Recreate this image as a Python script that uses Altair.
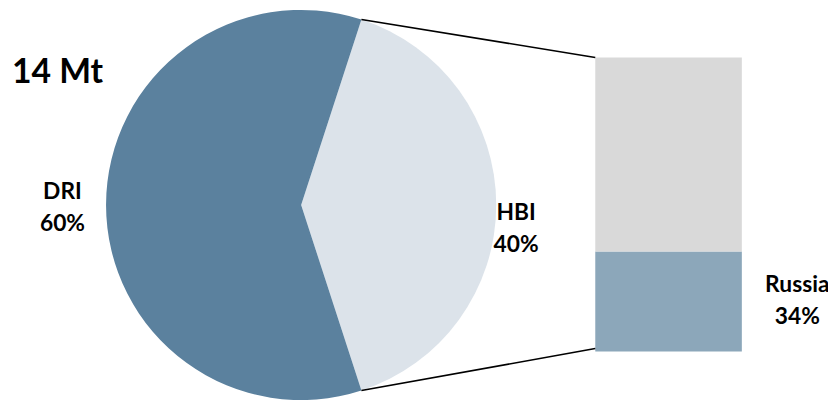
import math
import altair as alt
import pandas as pd

# ---- data ----
pie_cats = ["HBI", "DRI"]
pie_shares = [40, 60]
bar_cats = ["Russia", "Other"]
bar_shares = [34, 66]
total_label = "14 Mt"
labelled_bar = ["Russia"]

color_domain = ["DRI", "HBI", "Other", "Russia"]
color_range = ["#5B819E", "#DCE3EA", "#D9D9D9", "#8CA7BA"]

# ---- layout ----
W, H = 828, 392
cx, cy, R = 296, 197, 197
bx0, bx1, by_top, by_bot = 593, 741, 48, 345
FONT = "Lato"

hbi_frac = pie_shares[0] / sum(pie_shares)
a0 = math.pi / 2 - hbi_frac * math.pi          # start angle (from 12 o'clock, clockwise)
a1 = a0 + 2 * math.pi * hbi_frac

pie_df = pd.DataFrame({"cat": pie_cats, "share": pie_shares, "ord": range(len(pie_cats))})

bar_df = pd.DataFrame({"cat": bar_cats, "share": bar_shares})
bar_df["y0"] = bar_df["share"].cumsum() - bar_df["share"]
bar_df["y1"] = bar_df["share"].cumsum()

pie = alt.Chart(pie_df).mark_arc(outerRadius=R).encode(
    theta=alt.Theta("share:Q", stack=True,
                    scale=alt.Scale(range=[a0, a0 + 2 * math.pi])),
    order=alt.Order("ord:Q"),
    color=alt.Color("cat:N", scale=alt.Scale(domain=color_domain, range=color_range), legend=None),
    x=alt.value(cx),
    y=alt.value(cy),
)

bar = alt.Chart(bar_df).mark_rect().encode(
    y=alt.Y("y0:Q", scale=alt.Scale(domain=[0, 100], range=[by_bot, by_top], nice=False, zero=False), axis=None),
    y2="y1:Q",
    x=alt.value(bx0),
    x2=alt.value(bx1),
    color=alt.Color("cat:N", scale=alt.Scale(domain=color_domain, range=color_range), legend=None),
)

# connector lines from HBI slice edges to bar corners
bar_scale = lambda v: by_bot + (by_top - by_bot) * v / 100.0
conn_df = pd.DataFrame({
    "x": [cx + R * math.sin(a0), cx + R * math.sin(a1)],
    "y": [cy - R * math.cos(a0), cy - R * math.cos(a1)],
    "x2": [bx0, bx0],
    "y2": [bar_scale(100), bar_scale(0) - 3],
})
conn = alt.Chart(conn_df).mark_rule(color="black", strokeWidth=1.6).encode(
    x=alt.X("x:Q", scale=None, axis=None),
    y=alt.Y("y:Q", scale=None, axis=None),
    x2="x2:Q",
    y2="y2:Q",
)

# labels
lab_text = [f"{c}\n{s}%" for c, s in zip(pie_cats, pie_shares)]
lab_text += [f"{c}\n{s}%" for c, s in zip(bar_cats, bar_shares) if c in labelled_bar]
lab_df = pd.DataFrame({
    "text": lab_text,
    "x": [513, 55, 797],
    "y": [212, 191, 285],
})
labels = alt.Chart(lab_df).mark_text(
    font=FONT, fontWeight="bold", fontSize=23, lineHeight=32,
    align="center", baseline="alphabetic", lineBreak="\n", color="black",
).encode(
    x=alt.X("x:Q", scale=None, axis=None),
    y=alt.Y("y:Q", scale=None, axis=None),
    text="text:N",
)

title = alt.Chart(pd.DataFrame({"t": [total_label]})).mark_text(
    font=FONT, fontWeight="bold", fontSize=34, align="left", baseline="alphabetic", color="black",
).encode(x=alt.value(4), y=alt.value(74), text="t:N")

chart = alt.layer(pie, bar, conn, labels, title).resolve_scale(
    x="independent", y="independent", theta="independent"
).properties(
    width=W, height=H, padding=0, autosize=alt.AutoSizeParams(type="none")
).configure_view(stroke=None)

chart.save("out.html", embed_options={"renderer": "svg", "actions": False})
